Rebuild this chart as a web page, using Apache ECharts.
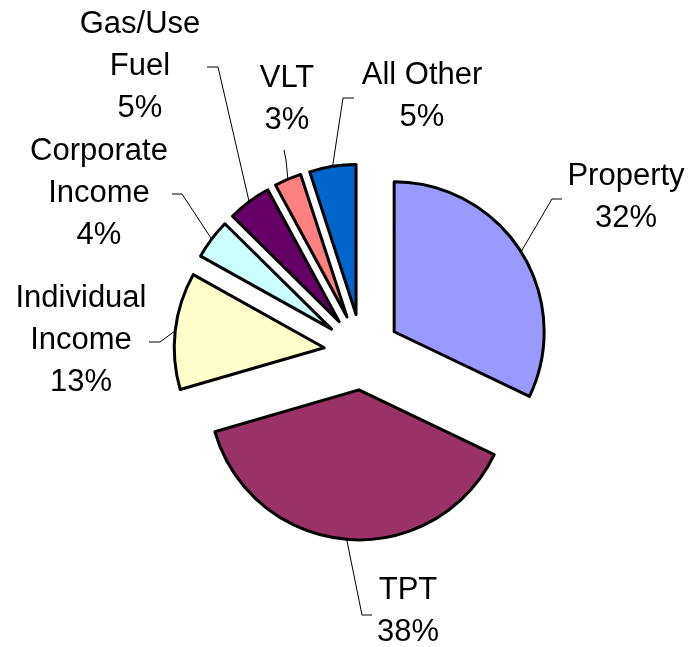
<!DOCTYPE html>
<html>
<head>
<meta charset="utf-8">
<script src="https://cdn.jsdelivr.net/npm/echarts@6/dist/echarts.min.js"></script>
<style>
  html, body { margin: 0; padding: 0; background: #fff; }
  #chart { width: 698px; height: 647px; }
</style>
</head>
<body>
<div id="chart"></div>
<script>
// slices, clockwise from 12 o'clock
const categories = ['Property', 'TPT', 'Individual\nIncome', 'Corporate\nIncome', 'Gas/Use\nFuel', 'VLT', 'All Other']
const shares = [32.1, 38.4, 12.6, 4.3, 4.7, 2.9, 5.0]
const sliceColors = ['#9999FF', '#993366', '#FFFFCC', '#CCFFFF', '#660066', '#FF8080', '#0066CC']

// where each label sits: [centerX, centerY, bendX, bendY, endX, endY]
const labelSpots = [
  [626, 197, 552, 199, 562, 199],
  [408, 611, 362, 615, 372, 615],
  [81, 340, 160, 342, 149, 342],
  [99, 193, 182, 194, 172, 194],
  [140, 66, 218, 67, 207, 67],
  [287, 99, 286, 160, 284, 150],
  [422, 96, 343, 98, 354, 98]
]

const pieCenter = [362, 352]
const pieRadius = 150
const explode = 38

const chart = echarts.init(document.getElementById('chart'))

// the exploded pie itself (all slices pulled out)
const pieData = categories.map((name, i) => ({
  name: name,
  value: shares[i],
  selected: true,
  itemStyle: { color: sliceColors[i] }
}))

// same values again, invisible, only to carry the labels;
// its rim sits on the rim of the pulled-out slices
const labelData = categories.map((name, i) => ({ name: name, value: shares[i] }))

chart.setOption({
  animation: false,
  backgroundColor: '#fff',
  series: [
    {
      type: 'pie',
      center: pieCenter,
      radius: [0, pieRadius],
      startAngle: 90,
      clockwise: true,
      selectedMode: 'multiple',
      selectedOffset: explode,
      silent: true,
      itemStyle: { borderColor: '#000', borderWidth: 3 },
      select: { itemStyle: { borderColor: '#000', borderWidth: 3 } },
      emphasis: { disabled: true },
      label: { show: false },
      labelLine: { show: false },
      data: pieData
    },
    {
      type: 'pie',
      center: pieCenter,
      radius: [0, pieRadius + explode],
      startAngle: 90,
      clockwise: true,
      silent: true,
      avoidLabelOverlap: false,
      percentPrecision: 0,
      itemStyle: { color: 'rgba(0,0,0,0)', borderWidth: 0 },
      emphasis: { disabled: true },
      label: {
        show: true,
        position: 'outside',
        formatter: '{b}\n{d}%',
        color: '#000',
        fontFamily: 'Liberation Sans, Arial, sans-serif',
        fontSize: 31,
        lineHeight: 42,
        align: 'center'
      },
      labelLine: {
        show: true,
        length: 20,
        length2: 10,
        lineStyle: { color: '#000', width: 1 }
      },
      labelLayout: function (p) {
        const s = labelSpots[p.dataIndex]
        const start = p.labelLinePoints ? p.labelLinePoints[0] : [s[2], s[3]]
        return {
          x: s[0],
          y: s[1],
          align: 'center',
          verticalAlign: 'middle',
          labelLinePoints: [start, [s[2], s[3]], [s[4], s[5]]]
        }
      },
      data: labelData
    }
  ]
})
</script>
</body>
</html>
